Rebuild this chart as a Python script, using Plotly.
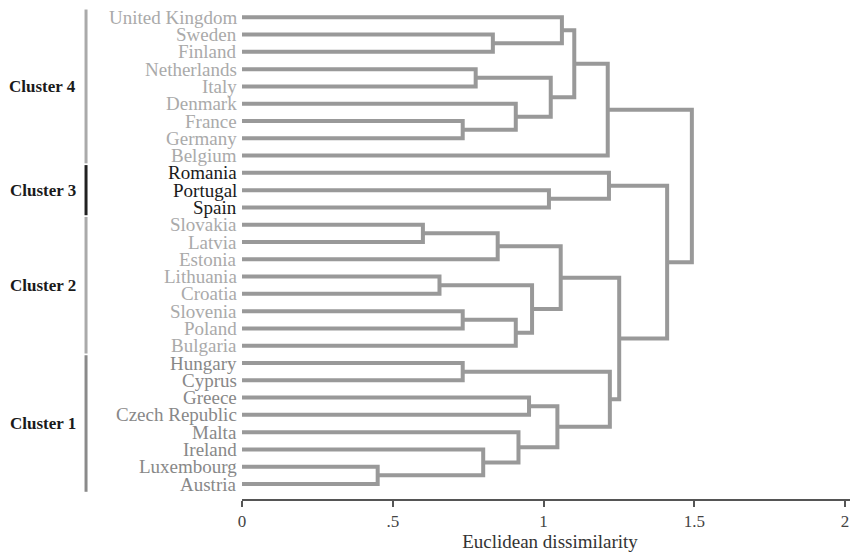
import plotly.graph_objects as go

# ---------------- data ----------------
leaves = ["United Kingdom", "Sweden", "Finland", "Netherlands", "Italy", "Denmark",
          "France", "Germany", "Belgium", "Romania", "Portugal", "Spain",
          "Slovakia", "Latvia", "Estonia", "Lithuania", "Croatia", "Slovenia",
          "Poland", "Bulgaria", "Hungary", "Cyprus", "Greece", "Czech Republic",
          "Malta", "Ireland", "Luxembourg", "Austria"]

leaf_cluster = [4, 4, 4, 4, 4, 4, 4, 4, 4, 3, 3, 3,
                2, 2, 2, 2, 2, 2, 2, 2, 1, 1, 1, 1, 1, 1, 1, 1]

# merges: children are leaf names or "N<k>" (k-th merge)
merge_left = ["Sweden", "United Kingdom", "Netherlands", "France", "Denmark", "N2", "N1", "N6",
              "Portugal", "Romania", "Slovakia", "N10", "Lithuania", "Slovenia", "N13", "N12",
              "N11", "Hungary", "Greece", "Luxembourg", "Ireland", "Malta", "N18", "N17",
              "N16", "N9", "N7"]
merge_right = ["Finland", "N0", "Italy", "Germany", "N3", "N4", "N5", "Belgium",
               "Spain", "N8", "Latvia", "Estonia", "Croatia", "Poland", "Bulgaria", "N14",
               "N15", "Cyprus", "Czech Republic", "Austria", "N19", "N20", "N21", "N22",
               "N23", "N24", "N25"]
merge_height = [0.832, 1.061, 0.775, 0.732, 0.908, 1.024, 1.102, 1.213,
                1.018, 1.217, 0.600, 0.848, 0.655, 0.732, 0.908, 0.962,
                1.057, 0.732, 0.952, 0.450, 0.800, 0.917, 1.046, 1.220,
                1.251, 1.410, 1.492]

cluster_names = ["Cluster 4", "Cluster 3", "Cluster 2", "Cluster 1"]
cluster_ids = [4, 3, 2, 1]

x_ticks = [0, 0.5, 1, 1.5, 2]
x_ticklabels = ["0", ".5", "1", "1.5", "2"]

# ---------------- styling ----------------
FONT = "Liberation Serif"
LINE_COL = "#999999"
label_colors = {4: "#aaaaaa", 3: "#1a1a1a", 2: "#aaaaaa", 1: "#888888"}
bar_colors = {4: "#aaaaaa", 3: "#222222", 2: "#aaaaaa", 1: "#8a8a8a"}

# ---------------- build dendrogram geometry ----------------
pos = {name: (0.0, float(i)) for i, name in enumerate(leaves)}
xs, ys = [], []
for k, (l, r, h) in enumerate(zip(merge_left, merge_right, merge_height)):
    lx, ly = pos[l]
    rx, ry = pos[r]
    xs += [lx, h, h, rx, None]
    ys += [ly, ly, ry, ry, None]
    pos["N%d" % k] = (h, (ly + ry) / 2.0)

fig = go.Figure()
fig.add_trace(go.Scatter(x=xs, y=ys, mode="lines",
                         line=dict(color=LINE_COL, width=4),
                         hoverinfo="skip", showlegend=False))

annotations = []
for i, (name, c) in enumerate(zip(leaves, leaf_cluster)):
    annotations.append(dict(x=0, y=i, xref="x", yref="y", text=name, showarrow=False,
                            xanchor="right", yanchor="middle", xshift=-3,
                            font=dict(family=FONT, size=19, color=label_colors[c])))

shapes = []
for cname, cid in zip(cluster_names, cluster_ids):
    idx = [i for i, c in enumerate(leaf_cluster) if c == cid]
    y0, y1 = min(idx) - 0.45, max(idx) + 0.45
    shapes.append(dict(type="line", xref="paper", yref="y", x0=-0.2532, x1=-0.2532,
                       y0=y0, y1=y1, line=dict(color=bar_colors[cid], width=3)))
    annotations.append(dict(xref="paper", yref="y", x=-0.2672, y=(min(idx) + max(idx)) / 2,
                            text="<b>%s</b>" % cname, showarrow=False,
                            xanchor="right", yanchor="middle", borderpad=0,
                            font=dict(family=FONT, size=17, color="#1a1a1a")))

fig.update_layout(
    width=850, height=544,
    margin=dict(l=234, r=0, t=0, b=53),
    plot_bgcolor="white", paper_bgcolor="white",
    showlegend=False,
    annotations=annotations,
    shapes=shapes,
    xaxis=dict(range=[0, 2.043], tickvals=x_ticks, ticktext=x_ticklabels,
               showgrid=False, zeroline=False, showline=True, linecolor="#555555",
               linewidth=1.5, ticks="outside", ticklen=6, tickcolor="#555555",
               tickwidth=1.5,
               tickfont=dict(family=FONT, size=17, color="#444444"),
               title=dict(text="Euclidean dissimilarity", standoff=0,
                          font=dict(family=FONT, size=19, color="#333333"))),
    yaxis=dict(range=[27.867, -0.538], showgrid=False, zeroline=False, showline=False,
               showticklabels=False, ticks=""),
)

fig.write_html("out.html")
